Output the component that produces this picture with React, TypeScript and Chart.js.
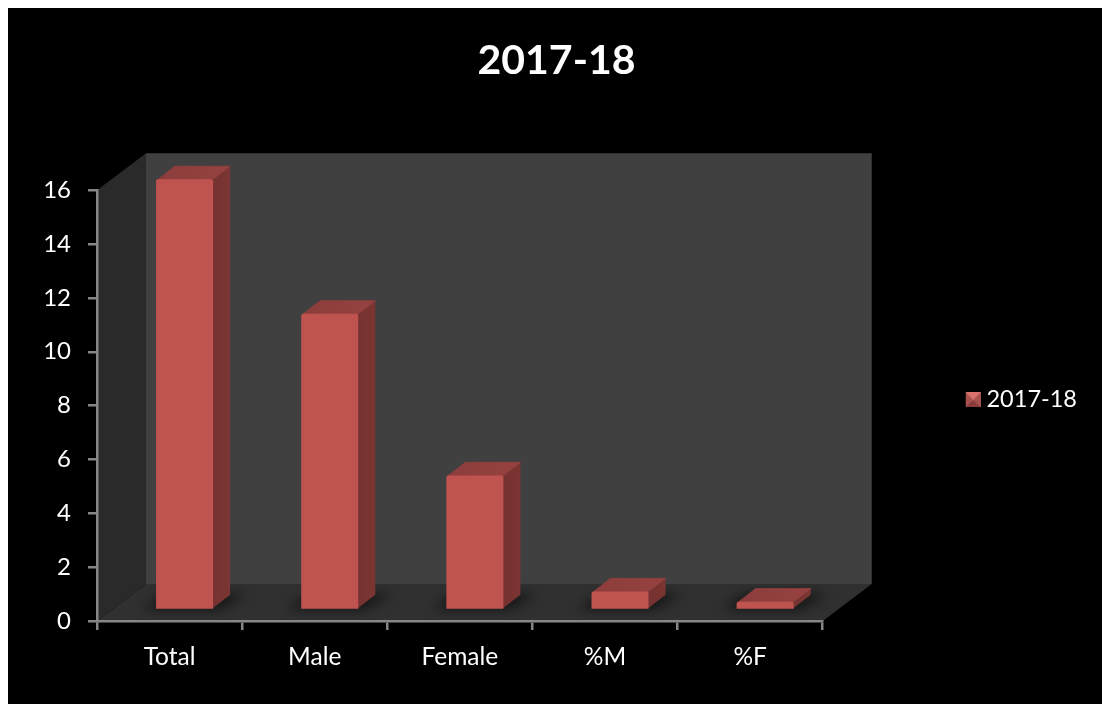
import React, { useEffect, useRef } from "react";
import { Chart, registerables } from "chart.js";

Chart.register(...registerables);

const categories = ["Total", "Male", "Female", "%M", "%F"];
const seriesName = "2017-18";
const seriesValues = [16, 11, 5, 0.69, 0.31];
const yTicks = { min: 0, max: 16, step: 2 };

const FONT = "Lato, 'Open Sans', sans-serif";
const WALL_DX = 49;
const WALL_DY = 37;
const BAR_DX = 18;
const BAR_DY = 14;
const SHIFT_X = 15;
const SHIFT_Y = 11;

function poly(ctx: CanvasRenderingContext2D, pts: number[][], fill: any) {
  ctx.beginPath();
  pts.forEach((p, i) => (i ? ctx.lineTo(p[0], p[1]) : ctx.moveTo(p[0], p[1])));
  ctx.closePath();
  ctx.fillStyle = fill;
  ctx.fill();
}

const scene3d = {
  id: "scene3d",
  beforeDraw(chart: any) {
    const { ctx, width, height, chartArea: a } = chart;
    ctx.save();
    ctx.fillStyle = "#000";
    ctx.fillRect(0, 0, width, height);
    poly(ctx, [[a.left + WALL_DX, a.top - WALL_DY], [a.right + WALL_DX, a.top - WALL_DY], [a.right + WALL_DX, a.bottom - WALL_DY], [a.left + WALL_DX, a.bottom - WALL_DY]], "#404040");
    poly(ctx, [[a.left, a.top], [a.left + WALL_DX, a.top - WALL_DY], [a.left + WALL_DX, a.bottom - WALL_DY], [a.left, a.bottom]], "#2a2a2a");
    poly(ctx, [[a.left, a.bottom], [a.right, a.bottom], [a.right + WALL_DX, a.bottom - WALL_DY], [a.left + WALL_DX, a.bottom - WALL_DY]], "#303030");
    ctx.restore();
  },
  beforeDatasetsDraw(chart: any) {
    const { ctx } = chart;
    const bars = chart.getDatasetMeta(0).data;
    ctx.save();
    ctx.translate(SHIFT_X, -SHIFT_Y);
    bars.forEach((b: any) => {
      const l = b.x - b.width / 2;
      const r = b.x + b.width / 2;
      ctx.save();
      ctx.filter = "blur(6px)";
      poly(ctx, [[l - 14, b.base + 1], [r + 6, b.base + 1], [r + BAR_DX + 16, b.base - BAR_DY - 1], [l + 8, b.base - BAR_DY - 1]], "rgba(0,0,0,0.55)");
      ctx.restore();
      const sideGrad = ctx.createLinearGradient(r, 0, r + BAR_DX, 0);
      sideGrad.addColorStop(0, "#753230");
      sideGrad.addColorStop(1, "#7c3533");
      poly(ctx, [[r - 1, b.y + 1], [r + BAR_DX - 1, b.y - BAR_DY + 1], [r + BAR_DX - 1, b.base - BAR_DY], [r - 1, b.base]], sideGrad);
      const topGrad = ctx.createLinearGradient(l, 0, r + BAR_DX, 0);
      topGrad.addColorStop(0, "#8c3d3b");
      topGrad.addColorStop(1, "#964240");
      ctx.lineJoin = "round";
      ctx.lineWidth = 1;
      ctx.strokeStyle = "#8f3f3d";
      poly(ctx, [[l + 1, b.y + 1], [l + BAR_DX + 1, b.y - BAR_DY + 1], [r + BAR_DX - 1, b.y - BAR_DY + 1], [r - 1, b.y + 1]], topGrad);
      ctx.stroke();
    });
  },
  afterDatasetsDraw(chart: any) {
    chart.ctx.restore();
  },
  afterLayout(chart: any) {
    chart.legend.top -= 6;
    chart.legend.bottom -= 6;
  },
};

function legendMarker() {
  const c = document.createElement("canvas");
  c.width = 27;
  c.height = 15;
  const x = c.getContext("2d")!;
  x.translate(12, 0);
  x.fillStyle = "#a8524f";
  x.fillRect(0, 0, 15, 15);
  poly(x, [[0, 0], [15, 0], [7.5, 8]], "#d9716d");
  poly(x, [[0, 15], [15, 15], [7.5, 8]], "#8a3c3a");
  return c;
}

export default function App() {
  const ref = useRef<HTMLCanvasElement>(null);
  useEffect(() => {
    const chart = new Chart(ref.current!, {
      type: "bar",
      data: {
        labels: categories,
        datasets: [
          {
            label: seriesName,
            data: seriesValues,
            clip: false,
            barPercentage: 0.393,
            categoryPercentage: 1,
            borderRadius: 2,
            backgroundColor: (c: any) => {
              const a = c.chart.chartArea;
              if (!a || !c.element) return "#bf5350";
              const w = c.element.width || 57;
              const x = c.element.x;
              if (x === undefined) return "#bf5350";
              const g = c.chart.ctx.createLinearGradient(x - w / 2, 0, x + w / 2, 0);
              g.addColorStop(0, "#c45552");
              g.addColorStop(0.1, "#bd5350");
              g.addColorStop(0.9, "#bd5350");
              g.addColorStop(1, "#cc5a56");
              return g;
            },
          } as any,
        ],
      },
      options: {
        responsive: false,
        animation: false,
        devicePixelRatio: 1,
        layout: { padding: { left: 18, right: 15, top: 0, bottom: 30 } },
        plugins: {
          title: {
            display: true,
            text: seriesName,
            color: "#fff",
            font: { family: FONT, size: 41, weight: "bold" },
            padding: { top: 28, bottom: 105 },
          },
          legend: {
            display: true,
            position: "right",
            fullSize: false,
            labels: {
              color: "#fff",
              font: { family: FONT, size: 23.5 },
              usePointStyle: true,
              pointStyle: legendMarker(),
              boxWidth: 15,
              boxHeight: 15,
            },
          },
          tooltip: { enabled: false },
        },
        scales: {
          x: {
            grid: { drawOnChartArea: false, color: "#868686", lineWidth: 2.5, tickLength: 9, offset: true },
            border: { color: "#868686", width: 2.5 },
            ticks: { color: "#fff", font: { family: FONT, size: 24.5 }, padding: 12, maxRotation: 0 },
            afterFit: (s: any) => { s.height = 53; },
          },
          y: {
            min: yTicks.min,
            max: yTicks.max,
            grid: { drawOnChartArea: false, color: "#868686", lineWidth: 2.5, tickLength: 9 },
            border: { color: "#868686", width: 2.5 },
            ticks: { stepSize: yTicks.step, color: "#fff", font: { family: FONT, size: 24 }, padding: 17 },
            afterFit: (s: any) => { s.width = 71; },
          },
          y2: {
            position: "right",
            display: true,
            min: 0,
            max: 1,
            grid: { display: false },
            border: { display: false },
            ticks: { display: false },
            afterFit: (s: any) => { s.width = 127; },
          },
        },
      },
      plugins: [scene3d],
    } as any);
    return () => chart.destroy();
  }, []);
  return (
    <canvas
      ref={ref}
      width={1094}
      height={696}
      style={{ position: "fixed", left: 8, top: 8, width: 1094, height: 696, display: "block" }}
    />
  );
}
